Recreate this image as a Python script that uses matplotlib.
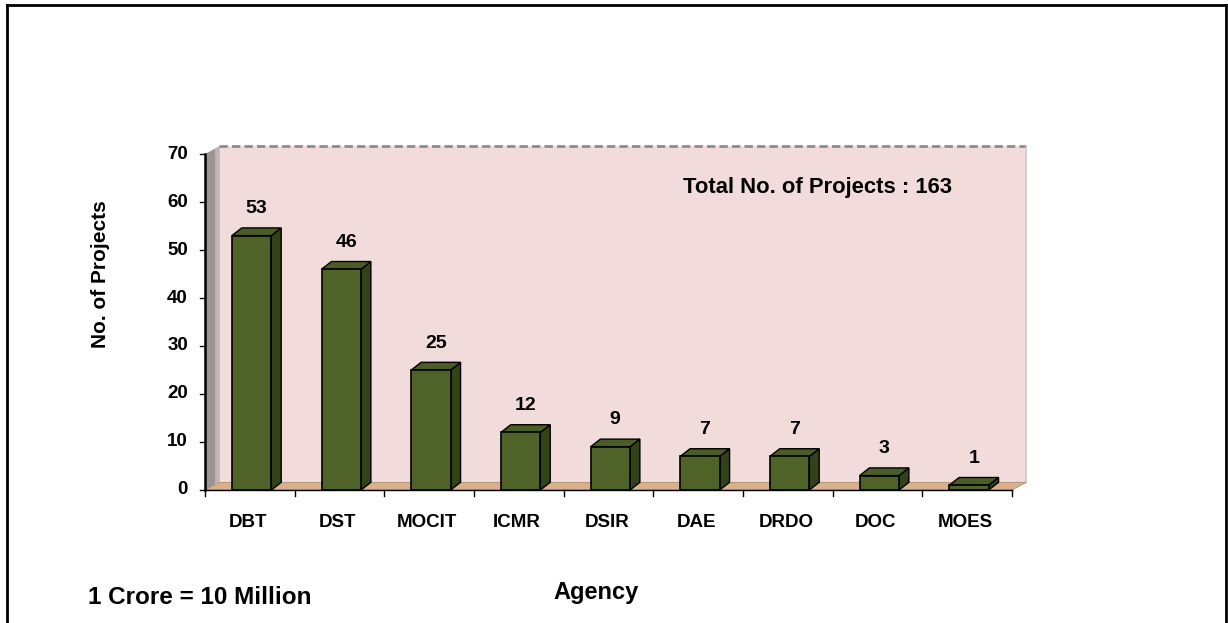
import matplotlib.pyplot as plt
from matplotlib.patches import Polygon, Rectangle
from matplotlib.lines import Line2D

plt.rcParams['font.family'] = ['Liberation Sans', 'DejaVu Sans']
plt.rcParams['font.weight'] = 'bold'

agencies = ['DBT', 'DST', 'MOCIT', 'ICMR', 'DSIR', 'DAE', 'DRDO', 'DOC', 'MOES']
projects = [53, 46, 25, 12, 9, 7, 7, 3, 1]
yticks = [0, 10, 20, 30, 40, 50, 60, 70]
total_label = 'Total No. of Projects : 163'

fig = plt.figure(figsize=(12.28, 6.23), dpi=100)
ax = fig.add_axes([205 / 1228, 133 / 623, 807 / 1228, 336 / 623])
n = len(agencies)
ax.set_xlim(0, n)
ax.set_ylim(0, 70)
ax.axis('off')

# depth offsets (data units) for walls and bars
dx, dy = 0.16, 1.6
bdx, bdy = 0.11, 1.6
w = 0.44

# back wall, floor, left wall
ax.add_patch(Polygon([(dx, dy), (n + dx, dy), (n + dx, 70 + dy), (dx, 70 + dy)],
                     closed=True, facecolor='#F2DCDB', edgecolor='none', zorder=1, clip_on=False))
ax.plot([dx, n + dx], [70 + dy, 70 + dy], color='#8C8C8C', lw=2, ls=(0, (3, 1.5)), zorder=2, clip_on=False)
ax.plot([n + dx, n + dx], [dy, 70 + dy], color='#C8C8C8', lw=1.2, zorder=2, clip_on=False)
ax.add_patch(Polygon([(0, 0), (n, 0), (n + dx, dy), (dx, dy)],
                     closed=True, facecolor='#D9B08A', edgecolor='#A08060', lw=0.5, zorder=2, clip_on=False))
ax.add_patch(Polygon([(0, 0), (dx, dy), (dx, 70 + dy), (0, 70)],
                     closed=True, facecolor='#9C9494', edgecolor='none', zorder=2, clip_on=False))
ax.add_patch(Polygon([(dx * 0.7, dy * 0.7), (dx, dy), (dx, 70 + dy), (dx * 0.7, 70 + dy * 0.7)],
                     closed=True, facecolor='#BDB5B5', edgecolor='none', zorder=2, clip_on=False))

# axes lines and ticks
ax.plot([0, 0], [0, 70], color='black', lw=1.8, zorder=5, clip_on=False)
ax.plot([0, n], [0, 0], color='black', lw=1.0, zorder=5, clip_on=False)
for t in yticks:
    ax.plot([-0.06, 0], [t, t], color='black', lw=1, zorder=5, clip_on=False)
    ax.text(-0.19, t, str(t), ha='right', va='center', fontsize=13.5, fontweight='bold')
for i in range(n + 1):
    ax.plot([i, i], [0, -1.2], color='black', lw=1, zorder=5, clip_on=False)
for i, a in enumerate(agencies):
    ax.text(i + 0.48, -6.7, a, ha='center', va='center', fontsize=13.5, fontweight='bold')

# bars
for i, v in enumerate(projects):
    c = i + 0.52
    x0, x1 = c - w / 2, c + w / 2
    ax.add_patch(Polygon([(x1, 0), (x1 + bdx, bdy), (x1 + bdx, v + bdy), (x1, v)],
                         closed=True, facecolor='#34421A', edgecolor='black', lw=1, zorder=6, clip_on=False))
    ax.add_patch(Polygon([(x0, v), (x1, v), (x1 + bdx, v + bdy), (x0 + bdx, v + bdy)],
                         closed=True, facecolor='#4A5D24', edgecolor='black', lw=1, zorder=6, clip_on=False))
    ax.add_patch(Rectangle((x0, 0), w, v, facecolor='#4F6228', edgecolor='black', lw=1.2,
                           zorder=7, clip_on=False))
    ax.text(c + bdx / 2, v + bdy + 4.0, str(v), ha='center', va='center', fontsize=14, fontweight='bold', zorder=8)

ax.text(6.83, 63.1, total_label, ha='center', va='center', fontsize=15.8, fontweight='bold', zorder=8)

fig.text(101 / 1228, 1 - 274 / 623, 'No. of Projects', rotation=90, ha='center', va='center',
         fontsize=15, fontweight='bold')
fig.text(596 / 1228, 1 - 592 / 623, 'Agency', ha='center', va='center', fontsize=17, fontweight='bold')
fig.text(88 / 1228, 1 - 597 / 623, '1 Crore = 10 Million', ha='left', va='center', fontsize=17.5, fontweight='bold')

# outer frame
fig.add_artist(Line2D([7 / 1228, 7 / 1228], [0, 1 - 5 / 623], color='black', lw=2, transform=fig.transFigure))
fig.add_artist(Line2D([7 / 1228, 1226 / 1228], [1 - 5 / 623, 1 - 5 / 623], color='black', lw=2, transform=fig.transFigure))
fig.add_artist(Line2D([1226 / 1228, 1226 / 1228], [0, 1 - 5 / 623], color='black', lw=2, transform=fig.transFigure))

fig.savefig('out.png', dpi=100)
